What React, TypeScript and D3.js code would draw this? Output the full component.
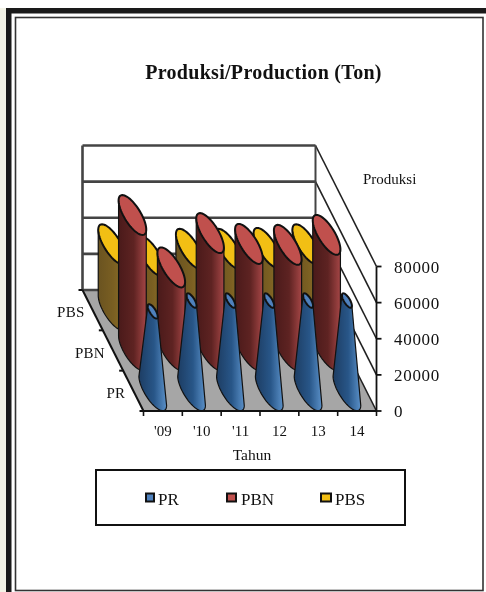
import React from "react";
import * as d3 from "d3";

const years = ["'09", "'10", "'11", "12", "13", "14"];
const seriesNames = ["PR", "PBN", "PBS"];
const PR = [44000, 50000, 50000, 50000, 50000, 50000];
const PBN = [75000, 46000, 65000, 59000, 58500, 64000];
const PBS = [36500, 30000, 34000, 34000, 34500, 36500];
const yTicks = [0, 20000, 40000, 60000, 80000];
const seriesValues = [PR, PBN, PBS];

const W = 486, H = 592;
const FONT = "'Liberation Serif', 'Times New Roman', serif";
const DEPTH_X = -61, DEPTH_Y = -121;
const xs = d3.scaleLinear().domain([0, years.length]).range([143.5, 376.5]);
const ys = d3.scaleLinear().domain([0, 80000]).range([0, 144.5]);
const zs = d3.scaleLinear().domain([0, seriesNames.length]).range([0, 1]);

const proj = (c: number, z: number, v: number): [number, number] => [
  xs(c) + zs(z) * DEPTH_X,
  411 - ys(v) + zs(z) * DEPTH_Y,
];

const RX = 9.5, RZ = 0.165;
const taper = [0.36, 1, 1];
const fills = ["#4f81bd", "#c0504d", "#f2bf14"];
const grads = [
  ["#1d3d63", "#285688", "#5a90c8"],
  ["#4a1a1a", "#5e2322", "#a54646"],
  ["#6a5320", "#7a5f22", "#8f7128"],
];
const line = d3.line<[number, number]>().curve(d3.curveLinear);

function ellipsePt(cx: number, cy: number, k: number, t: number): [number, number] {
  return [
    cx + RX * k * Math.cos(t) + RZ * k * DEPTH_X * Math.sin(t),
    cy + RZ * k * DEPTH_Y * Math.sin(t),
  ];
}
const tMax = Math.atan2(RZ * DEPTH_X, RX);

function Cone({ cat, si, value }: { cat: number; si: number; value: number }) {
  const [bx, by] = proj(cat + 0.5, si + 0.5, 0);
  const [tx, ty] = proj(cat + 0.5, si + 0.5, value);
  const k = taper[si];
  const arc = d3.range(0, 41).map((i) => ellipsePt(bx, by, 1, tMax - Math.PI + (Math.PI * i) / 40).slice() as [number, number]);
  // arc runs from the left tangent through the front of the base to the right tangent
  const arc2 = d3.range(0, 41).map((i) => ellipsePt(bx, by, 1, tMax - Math.PI + (Math.PI * i) / 40));
  const body = [ellipsePt(tx, ty, k, tMax - Math.PI), ...arc2, ellipsePt(tx, ty, k, tMax)];
  const top = d3.range(0, 60).map((i) => ellipsePt(tx, ty, k, (2 * Math.PI * i) / 60));
  void arc;
  return (
    <g>
      <path d={line(body)! + "Z"} fill={`url(#g${si})`} stroke="#111" strokeWidth={1.2} strokeLinejoin="round" />
      <path d={line(top)! + "Z"} fill={fills[si]} stroke="#111" strokeWidth={2} />
    </g>
  );
}

export default function App() {
  const txt = { fontFamily: FONT, fill: "#111" } as const;
  const back = (v: number) => proj(0, 3, v);
  const backR = (v: number) => proj(6, 3, v);
  const front = (v: number) => proj(6, 0, v);
  return (
    <svg width={W} height={H} viewBox={`0 0 ${W} ${H}`} style={{ position: "absolute", left: 0, top: 0, display: "block", filter: "blur(0.45px)" }}>
      <defs>
        {grads.map((g, i) => (
          <linearGradient key={i} id={`g${i}`} x1="0" x2="1" y1="0" y2="0">
            <stop offset="0" stopColor={g[0]} />
            <stop offset="0.55" stopColor={g[1]} />
            <stop offset="1" stopColor={g[2]} />
          </linearGradient>
        ))}
      </defs>
      <rect width={W} height={H} fill="#fff" />
      <rect x={0} y={8} width={6} height={H - 8} fill="#f3f3e6" />
      <rect x={6} y={8} width={W - 6} height={5.5} fill="#1a1a1a" />
      <rect x={6} y={8} width={5.5} height={H - 8} fill="#1a1a1a" />
      <rect x={15.5} y={17.5} width={467.5} height={573} fill="none" stroke="#333" strokeWidth={1.6} />

      <text x={263.5} y={79} textAnchor="middle" fontSize={20} fontWeight="bold" style={{ ...txt, letterSpacing: "0.3px" }}>Produksi/Production (Ton)</text>

      {/* floor */}
      <path d={line([back(0), backR(0), front(0), proj(0, 0, 0)])! + "Z"} fill="#a6a6a6" />

      {/* walls */}
      {yTicks.map((v) => (
        <g key={v}>
          <line x1={back(v)[0]} y1={back(v)[1]} x2={backR(v)[0]} y2={backR(v)[1]} stroke="#444" strokeWidth={2.6} />
          <line x1={backR(v)[0]} y1={backR(v)[1]} x2={front(v)[0]} y2={front(v)[1]} stroke="#222" strokeWidth={1.6} />
        </g>
      ))}
      <line x1={back(0)[0]} y1={back(0)[1]} x2={back(80000)[0]} y2={back(80000)[1]} stroke="#444" strokeWidth={2.6} />
      <line x1={backR(0)[0]} y1={backR(0)[1]} x2={backR(80000)[0]} y2={backR(80000)[1]} stroke="#444" strokeWidth={2} />

      {/* axes */}
      <line x1={back(0)[0]} y1={back(0)[1]} x2={proj(0, 0, 0)[0]} y2={proj(0, 0, 0)[1]} stroke="#111" strokeWidth={2} />
      {d3.range(0, 4).map((z) => {
        const [x, y] = proj(0, z, 0);
        return <line key={z} x1={x - 4} y1={y} x2={x} y2={y} stroke="#111" strokeWidth={2} />;
      })}
      <line x1={front(0)[0]} y1={front(0)[1]} x2={front(80000)[0]} y2={front(80000)[1]} stroke="#111" strokeWidth={1.8} />
      {yTicks.map((v) => (
        <g key={v}>
          <line x1={front(v)[0]} y1={front(v)[1]} x2={front(v)[0] + 5} y2={front(v)[1]} stroke="#111" strokeWidth={1.8} />
          <text x={394} y={front(v)[1] + 6} fontSize={17} style={{ ...txt, letterSpacing: "0.7px" }}>{d3.format("d")(v)}</text>
        </g>
      ))}

      {/* cones */}
      {[2, 1, 0].map((si) =>
        seriesValues[si].map((v, c) => <Cone key={`${si}-${c}`} cat={c} si={si} value={v} />)
      )}

      {/* front edge, over the marks */}
      <line x1={proj(0, 0, 0)[0]} y1={411} x2={front(0)[0]} y2={411} stroke="#111" strokeWidth={2.2} />
      {d3.range(0, years.length + 1).map((c) => (
        <line key={c} x1={xs(c)} y1={411} x2={xs(c)} y2={416} stroke="#111" strokeWidth={1.6} />
      ))}
      {years.map((y, c) => (
        <text key={y} x={xs(c + 0.5)} y={436} textAnchor="middle" fontSize={15} style={txt}>{y}</text>
      ))}
      <text x={252} y={460} textAnchor="middle" fontSize={15.5} style={txt}>Tahun</text>
      <text x={363} y={184} fontSize={15} style={txt}>Produksi</text>

      {seriesNames.map((n, i) => {
        const [x] = proj(0, i + 0.5, 0);
        return (
          <text key={n} x={x - 8} y={398 - i * 40.5} textAnchor="end" fontSize={15} style={{ ...txt, letterSpacing: "0.3px" }}>{n}</text>
        );
      })}

      {/* legend */}
      <rect x={96} y={470} width={309} height={55} fill="#fff" stroke="#111" strokeWidth={2} />
      {seriesNames.map((n, i) => {
        const keyX = [146, 227, 321][i];
        return (
          <g key={n}>
            <rect x={keyX} y={493.5} width={[8, 9, 10][i]} height={8} fill={fills[i]} stroke="#111" strokeWidth={2} />
            <text x={keyX + [12, 14, 14][i]} y={505} fontSize={17} style={txt}>{n}</text>
          </g>
        );
      })}
    </svg>
  );
}
